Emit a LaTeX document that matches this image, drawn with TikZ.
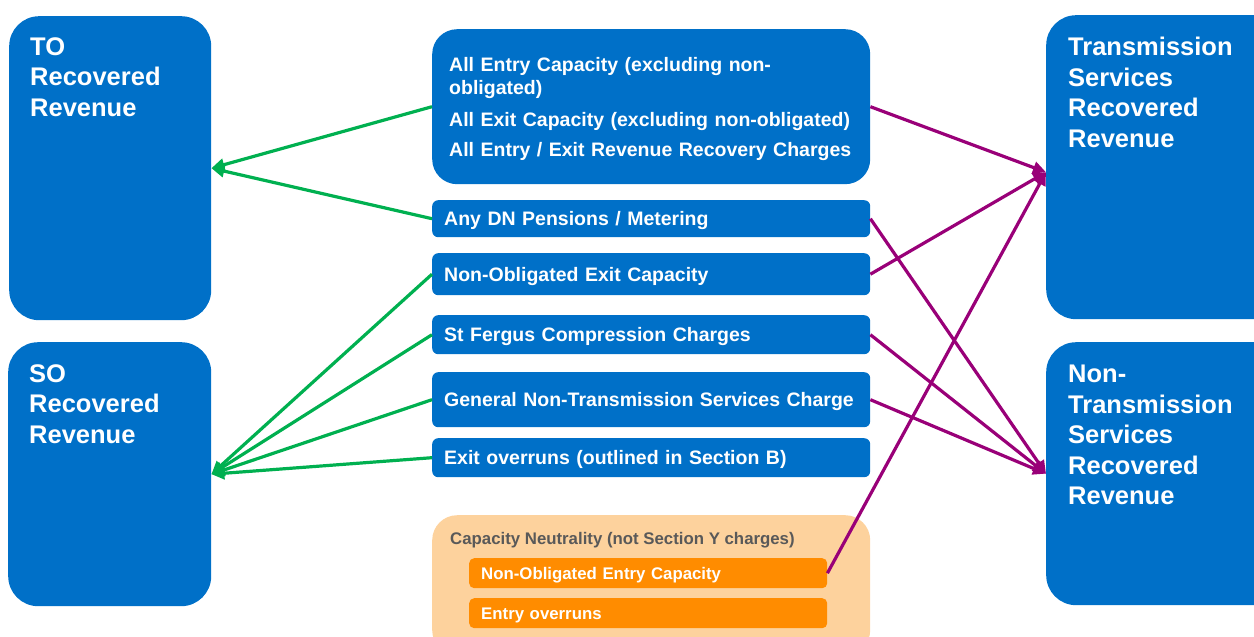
\documentclass[tikz,border=0pt]{standalone}
\usepackage{fontspec}
\setmainfont{Liberation Sans}
\usetikzlibrary{arrows.meta}
\definecolor{ngblue}{RGB}{0,112,200}
\definecolor{nggreen}{RGB}{0,176,80}
\definecolor{ngpurple}{RGB}{153,0,120}
\definecolor{lightor}{RGB}{253,210,157}
\definecolor{darkor}{RGB}{255,140,0}
\definecolor{graytxt}{RGB}{89,89,89}
\begin{document}
\begin{tikzpicture}[x=1pt,y=-1pt,
  revbox/.style={fill=ngblue, rounded corners=30pt, anchor=north west, inner sep=0pt, minimum width=#1},
  revtext/.style={anchor=north west, inner sep=0pt, text=white, font=\bfseries\fontsize{25.5}{30.5}\selectfont, align=left},
  item/.style={fill=ngblue, rounded corners=6pt, anchor=north west, minimum width=438pt, inner xsep=12pt, inner ysep=0pt, text width=414pt, align=left, text=white, font=\bfseries\fontsize{19.5}{23}\selectfont, text height=14pt, text depth=0pt},
  oitem/.style={fill=darkor, rounded corners=5pt, anchor=north west, minimum width=358pt, minimum height=30pt, inner xsep=12pt, inner ysep=0pt, text width=334pt, align=left, text=white, font=\bfseries\fontsize{16.8}{20}\selectfont, text height=12pt, text depth=0pt},
  garrow/.style={draw=nggreen, line width=3.2pt, -{Triangle[length=13pt,width=12pt]}},
  parrow/.style={draw=ngpurple, line width=3.2pt, -{Triangle[length=13pt,width=12pt]}}
]
\useasboundingbox (0,0) rectangle (1254,637);
\clip (0,0) rectangle (1254,637);

% revenue boxes
\node[revbox=202pt, minimum height=304pt] (TO) at (9,16) {};
\node[revtext] (TOt) at (30,37) {TO\\Recovered\\Revenue};
\node[revbox=203pt, minimum height=264pt] (SO) at (8,342) {};
\node[revtext] (SOt) at (29,364) {SO\\Recovered\\Revenue};
\node[revbox=240pt, minimum height=304pt] (TS) at (1046,15) {};
\node[revtext] (TSt) at (1068,37) {Transmission\\Services\\Recovered\\Revenue};
\node[revbox=240pt, minimum height=263pt] (NTS) at (1046,342) {};
\node[revtext] (NTSt) at (1068,365) {Non-\\Transmission\\Services\\Recovered\\Revenue};

% centre items
\node[fill=ngblue, rounded corners=25pt, anchor=north west, minimum width=438pt, minimum height=155pt, inner xsep=17pt, inner ysep=0pt, text width=404pt, align=left, text=white, font=\bfseries\fontsize{19.5}{23}\selectfont] (big) at (432,29)
  {\rule{0pt}{18pt}All Entry Capacity (excluding non-\\obligated)\\[9pt]All Exit Capacity (excluding non-obligated)\\[7pt]All Entry / Exit Revenue Recovery Charges};
\node[item, minimum height=37pt] (dn) at (432,200) {Any DN Pensions / Metering};
\node[item, minimum height=42pt] (nox) at (432,253) {Non-Obligated Exit Capacity};
\node[item, minimum height=39pt] (stf) at (432,315) {St Fergus Compression Charges};
\node[item, minimum height=55pt] (gen) at (432,372) {General Non-Transmission Services Charge};
\node[item, minimum height=39pt] (exo) at (432,438) {Exit overruns (outlined in Section B)};

% capacity neutrality
\node[fill=lightor, rounded corners=25pt, anchor=north west, minimum width=438pt, minimum height=140pt, inner sep=0pt] (cap) at (432,515) {};
\node[anchor=base west, inner sep=0pt, text=graytxt, font=\bfseries\fontsize{16.8}{20}\selectfont] (capt) at (450,544) {Capacity Neutrality (not Section Y charges)};
\node[oitem] (noe) at (469,558) {Non-Obligated Entry Capacity};
\node[oitem] (eor) at (469,598) {Entry overruns};

% arrows
\draw[garrow] (big.west) -- (TO.east);
\draw[garrow] (dn.west) -- (TO.east);
\draw[garrow] (nox.west) -- (SO.east);
\draw[garrow] (stf.west) -- (SO.east);
\draw[garrow] (gen.west) -- (SO.east);
\draw[garrow] (exo.west) -- (SO.east);

\draw[parrow] (big.east) -- ([yshift=-5pt]TS.west);
\draw[parrow] (nox.east) -- ([yshift=-5pt]TS.west);
\draw[parrow] (noe.east) -- ([yshift=-5pt]TS.west);
\draw[parrow] (dn.east) -- (NTS.west);
\draw[parrow] (stf.east) -- (NTS.west);
\draw[parrow] (gen.east) -- (NTS.west);
\end{tikzpicture}
\end{document}
